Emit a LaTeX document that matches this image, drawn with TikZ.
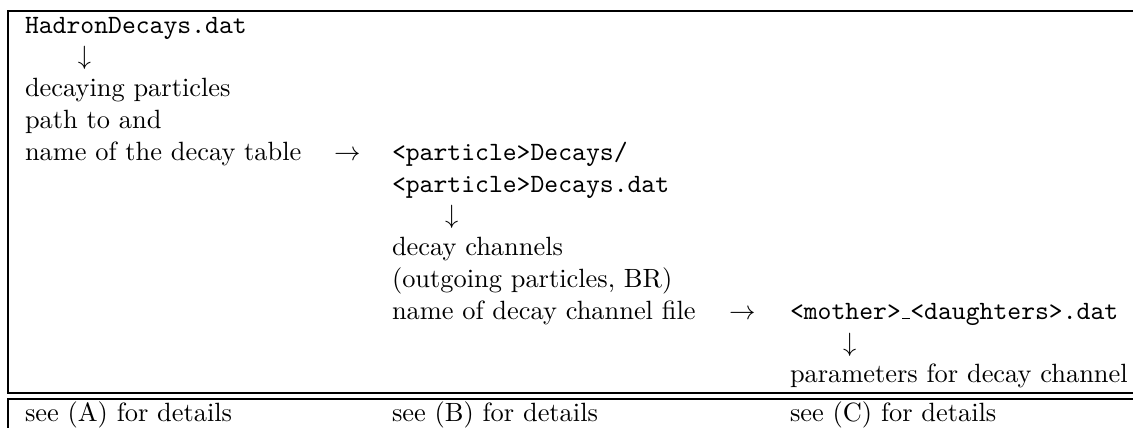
\documentclass[tikz,border=0pt]{standalone}
\usepackage{amsmath}
\usepackage{amssymb}
\usepackage{tikz}
\usetikzlibrary{positioning}

\newcommand{\lowbar}{\leavevmode\kern.06em\vbox{\hrule width.3em}}

\begin{document}
\begin{tikzpicture}[x=0.3788pt, y=-0.3788pt,
    cell/.style={anchor=base west, inner sep=0pt, outer sep=0pt},
    tabrule/.style={line width=0.9pt}]

    \useasboundingbox (0,0) rectangle (1133,428);

    % first column
    \node[cell] (hadron) at (25,33) {\texttt{HadronDecays.dat}};
    \node[cell] (down1) at (78,64.8) {$\downarrow$};
    \node[cell] (decaying) at (25,96.6) {decaying particles};
    \node[cell] (pathto) at (25,128.4) {path to and};
    \node[cell] (tablename) at (25,160.2) {name of the decay table};
    \node[cell] (right1) at (334,160.2) {$\rightarrow$};

    % second column
    \node[cell] (partdir) at (392,160.2) {\texttt{<particle>Decays/}};
    \node[cell] (partdat) at (392,192) {\texttt{<particle>Decays.dat}};
    \node[cell] (down2) at (445,223.8) {$\downarrow$};
    \node[cell] (channels) at (392,255.6) {decay channels};
    \node[cell] (outgoing) at (392,287.4) {(outgoing particles, BR)};
    \node[cell] (chanfile) at (392,319.2) {name of decay channel file};
    \node[cell] (right2) at (729,319.2) {$\rightarrow$};

    % third column
    \node[cell] (motherdat) at (790,319.2) {\texttt{<mother>}\lowbar\texttt{<daughters>.dat}};
    \node[cell] (down3) at (843,351) {$\downarrow$};
    \node[cell] (params) at (790,382.8) {parameters for decay channel};

    % details row
    \node[cell] (seeA) at (25,421) {see (A) for details};
    \node[cell] (seeB) at (392,421) {see (B) for details};
    \node[cell] (seeC) at (790,421) {see (C) for details};

    % table rules
    \path[draw, tabrule] (1133,10.8) -| (8,393) -- (1133,393);
    \path[draw, tabrule] (1133,399) -| (8,428);

\end{tikzpicture}
\end{document}
